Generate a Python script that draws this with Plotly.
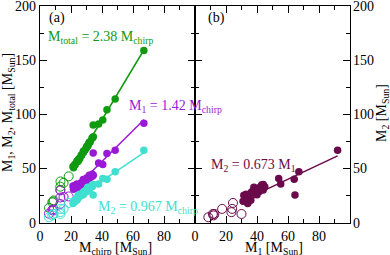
import plotly.graph_objects as go

# ---- data ----
# filled events
f_m1 = [92, 67, 64, 64.5, 54, 55.3, 31.5, 32.5, 34.5, 34, 35.5, 36.5, 38.5, 40.5, 43, 44,
        37, 39, 41.5, 35, 36, 33, 38, 42, 40, 37.5, 45, 34, 39.5, 36.5, 42.5, 33.5, 31, 44]
f_m2 = [67, 47.3, 40.3, 25.8, 41, 35.9, 25.5, 21, 19.5, 18, 24, 28.5, 30.5, 32, 35, 30.5,
        25.5, 27.5, 29, 23, 21, 26.5, 33, 33, 26, 29.5, 33.5, 22.5, 31, 26, 31.5, 24.5, 20, 35.5]
f_mc = [67, 48.5, 43.2, 34.3, 40.5, 37.8, 24.6, 22.6, 22.4, 21.3, 25.3, 28.0, 29.8, 31.3, 33.7, 31.8,
        26.6, 28.4, 30.1, 24.6, 23.8, 25.7, 30.8, 32.4, 27.9, 28.9, 33.7, 24.0, 30.4, 26.8, 31.8, 24.9, 21.6, 34.4]
f_mt = [159, 114.3, 104.3, 90.3, 95, 91.2, 57, 53.5, 54, 52, 59.5, 65, 69, 72.5, 78, 74.5,
        62.5, 66.5, 70.5, 58, 57, 59.5, 71, 75, 66, 67, 78.5, 56.5, 70.5, 62.5, 74, 58, 51, 79.5]
# open events
o_m1 = [8.6, 11.5, 12.5, 12, 17.5, 23.5, 24, 24.5, 30]
o_m2 = [5.3, 8.3, 8.3, 7, 13, 10, 13, 18.5, 8.3]
o_mc = [5.8, 8.5, 8.8, 7.9, 13.1, 13.1, 15.2, 18.5, 13.2]
o_mt = [13.9, 19.8, 20.8, 19, 30.5, 33.5, 37, 43, 38.3]

slope_total = 2.38
slope_m1 = 1.42
slope_m2 = 0.967
slope_b = 0.673

x_ticks = [0, 20, 40, 60, 80]
y_ticks = [0, 50, 100, 150, 200]
y_range = [0, 200]

GREEN = "#0f9a0f"
PURPLE = "#9a19d6"
CYAN = "#40e0d0"
MAROON = "#6b0a4a"
FONT = "Liberation Serif"

fig = go.Figure()

xa = [min(f_mc), max(f_mc)]
for slope, col, ys, yo in [(slope_total, GREEN, f_mt, o_mt),
                           (slope_m1, PURPLE, f_m1, o_m1),
                           (slope_m2, CYAN, f_m2, o_m2)]:
    fig.add_trace(go.Scatter(x=xa, y=[slope * v for v in xa], mode="lines",
                             line=dict(color=col, width=1.5), xaxis="x", yaxis="y",
                             showlegend=False, hoverinfo="skip"))
    fig.add_trace(go.Scatter(x=f_mc, y=ys, mode="markers",
                             marker=dict(color=col, size=7.5, line=dict(width=0)),
                             xaxis="x", yaxis="y", showlegend=False))
    fig.add_trace(go.Scatter(x=o_mc, y=yo, mode="markers",
                             marker=dict(symbol="circle-open", color=col, size=9,
                                         line=dict(width=1, color=col)),
                             xaxis="x", yaxis="y", showlegend=False))

xb = [min(f_m1), max(f_m1)]
fig.add_trace(go.Scatter(x=xb, y=[slope_b * v for v in xb], mode="lines",
                         line=dict(color=MAROON, width=1.5), xaxis="x2", yaxis="y2",
                         showlegend=False, hoverinfo="skip"))
fig.add_trace(go.Scatter(x=f_m1, y=f_m2, mode="markers",
                         marker=dict(color=MAROON, size=7.5, line=dict(width=0)),
                         xaxis="x2", yaxis="y2", showlegend=False))
fig.add_trace(go.Scatter(x=o_m1, y=o_m2, mode="markers",
                         marker=dict(symbol="circle-open", color=MAROON, size=9,
                                     line=dict(width=1, color=MAROON)),
                         xaxis="x2", yaxis="y2", showlegend=False))

axis_common = dict(showgrid=False, zeroline=False, showline=True, linecolor="black",
                   linewidth=1, ticks="inside", ticklen=7, tickcolor="black",
                   mirror="allticks",
                   tickfont=dict(family=FONT, size=14, color="black"))

fig.update_layout(
    width=390, height=255,
    margin=dict(l=40, r=40, t=6, b=32, autoexpand=False),
    paper_bgcolor="white", plot_bgcolor="white",
    showlegend=False,
    xaxis=dict(domain=[0, 0.5], range=[0, 100], tickmode="array", tickvals=x_ticks,
               minor=dict(dtick=10, tick0=0, ticks="inside", ticklen=4, tickcolor="black"),
               anchor="y", **axis_common),
    yaxis=dict(domain=[0, 1], range=y_range, tickmode="array", tickvals=y_ticks,
               showticklabels=False,
               minor=dict(dtick=25, tick0=0, ticks="inside", ticklen=4, tickcolor="black"),
               anchor="x", **axis_common),
    xaxis2=dict(domain=[0.5, 1], range=[0, 100], tickmode="array", tickvals=x_ticks,
                minor=dict(dtick=10, tick0=0, ticks="inside", ticklen=4, tickcolor="black"),
                anchor="y2", **axis_common),
    yaxis2=dict(domain=[0, 1], range=y_range, tickmode="array", tickvals=y_ticks, side="right",
                showticklabels=False,
                minor=dict(dtick=25, tick0=0, ticks="inside", ticklen=4, tickcolor="black"),
                anchor="x2", **axis_common),
)

# y tick labels as paper-referenced text, positioned from the axis range
for v in y_ticks:
    frac = (v - y_range[0]) / (y_range[1] - y_range[0])
    fig.add_annotation(text=str(v), x=0, y=frac, xref="paper", yref="paper", showarrow=False,
                       xanchor="right", yanchor="middle", xshift=-2,
                       font=dict(family=FONT, size=14, color="black"))
    fig.add_annotation(text=str(v), x=1, y=frac, xref="paper", yref="paper", showarrow=False,
                       xanchor="left", yanchor="middle", xshift=1,
                       font=dict(family=FONT, size=14, color="black"))


def px(xp, yp):
    return (xp - 40) / 310.0, (223 - yp) / 217.0


def ann(text, xp, yp, color="black", size=14, angle=0, xanchor="left"):
    x, y = px(xp, yp)
    fig.add_annotation(text=text, x=x, y=y, xref="paper", yref="paper",
                       showarrow=False, xanchor=xanchor, yanchor="middle",
                       textangle=angle,
                       font=dict(family=FONT, size=size, color=color))


ann("(a)", 47, 18)
ann("(b)", 206, 18)
ann("M<sub>total</sub> = 2.38 M<sub>chirp</sub>", 46, 37, GREEN)
ann("M<sub>1</sub> = 1.42 M<sub>chirp</sub>", 127, 106, PURPLE)
ann("M<sub>2</sub> = 0.967 M<sub>chirp</sub>", 96, 207, CYAN)
ann("M<sub>2</sub> = 0.673 M<sub>1</sub>", 209, 165, MAROON)
ann("M<sub>chirp</sub> [M<sub>Sun</sub>]", 115, 248, xanchor="center")
ann("M<sub>1</sub> [M<sub>Sun</sub>]", 274, 248, xanchor="center")
ann("M<sub>1</sub>, M<sub>2</sub>, M<sub>total</sub> [M<sub>Sun</sub>]", 8, 113, angle=-90, xanchor="center")
ann("M<sub>2</sub> [M<sub>Sun</sub>]", 382, 113, angle=-90, xanchor="center")

fig.write_html("out.html", config={"displayModeBar": False, "staticPlot": True},
               post_script="document.body.style.margin='0';document.body.style.overflow='hidden';")
